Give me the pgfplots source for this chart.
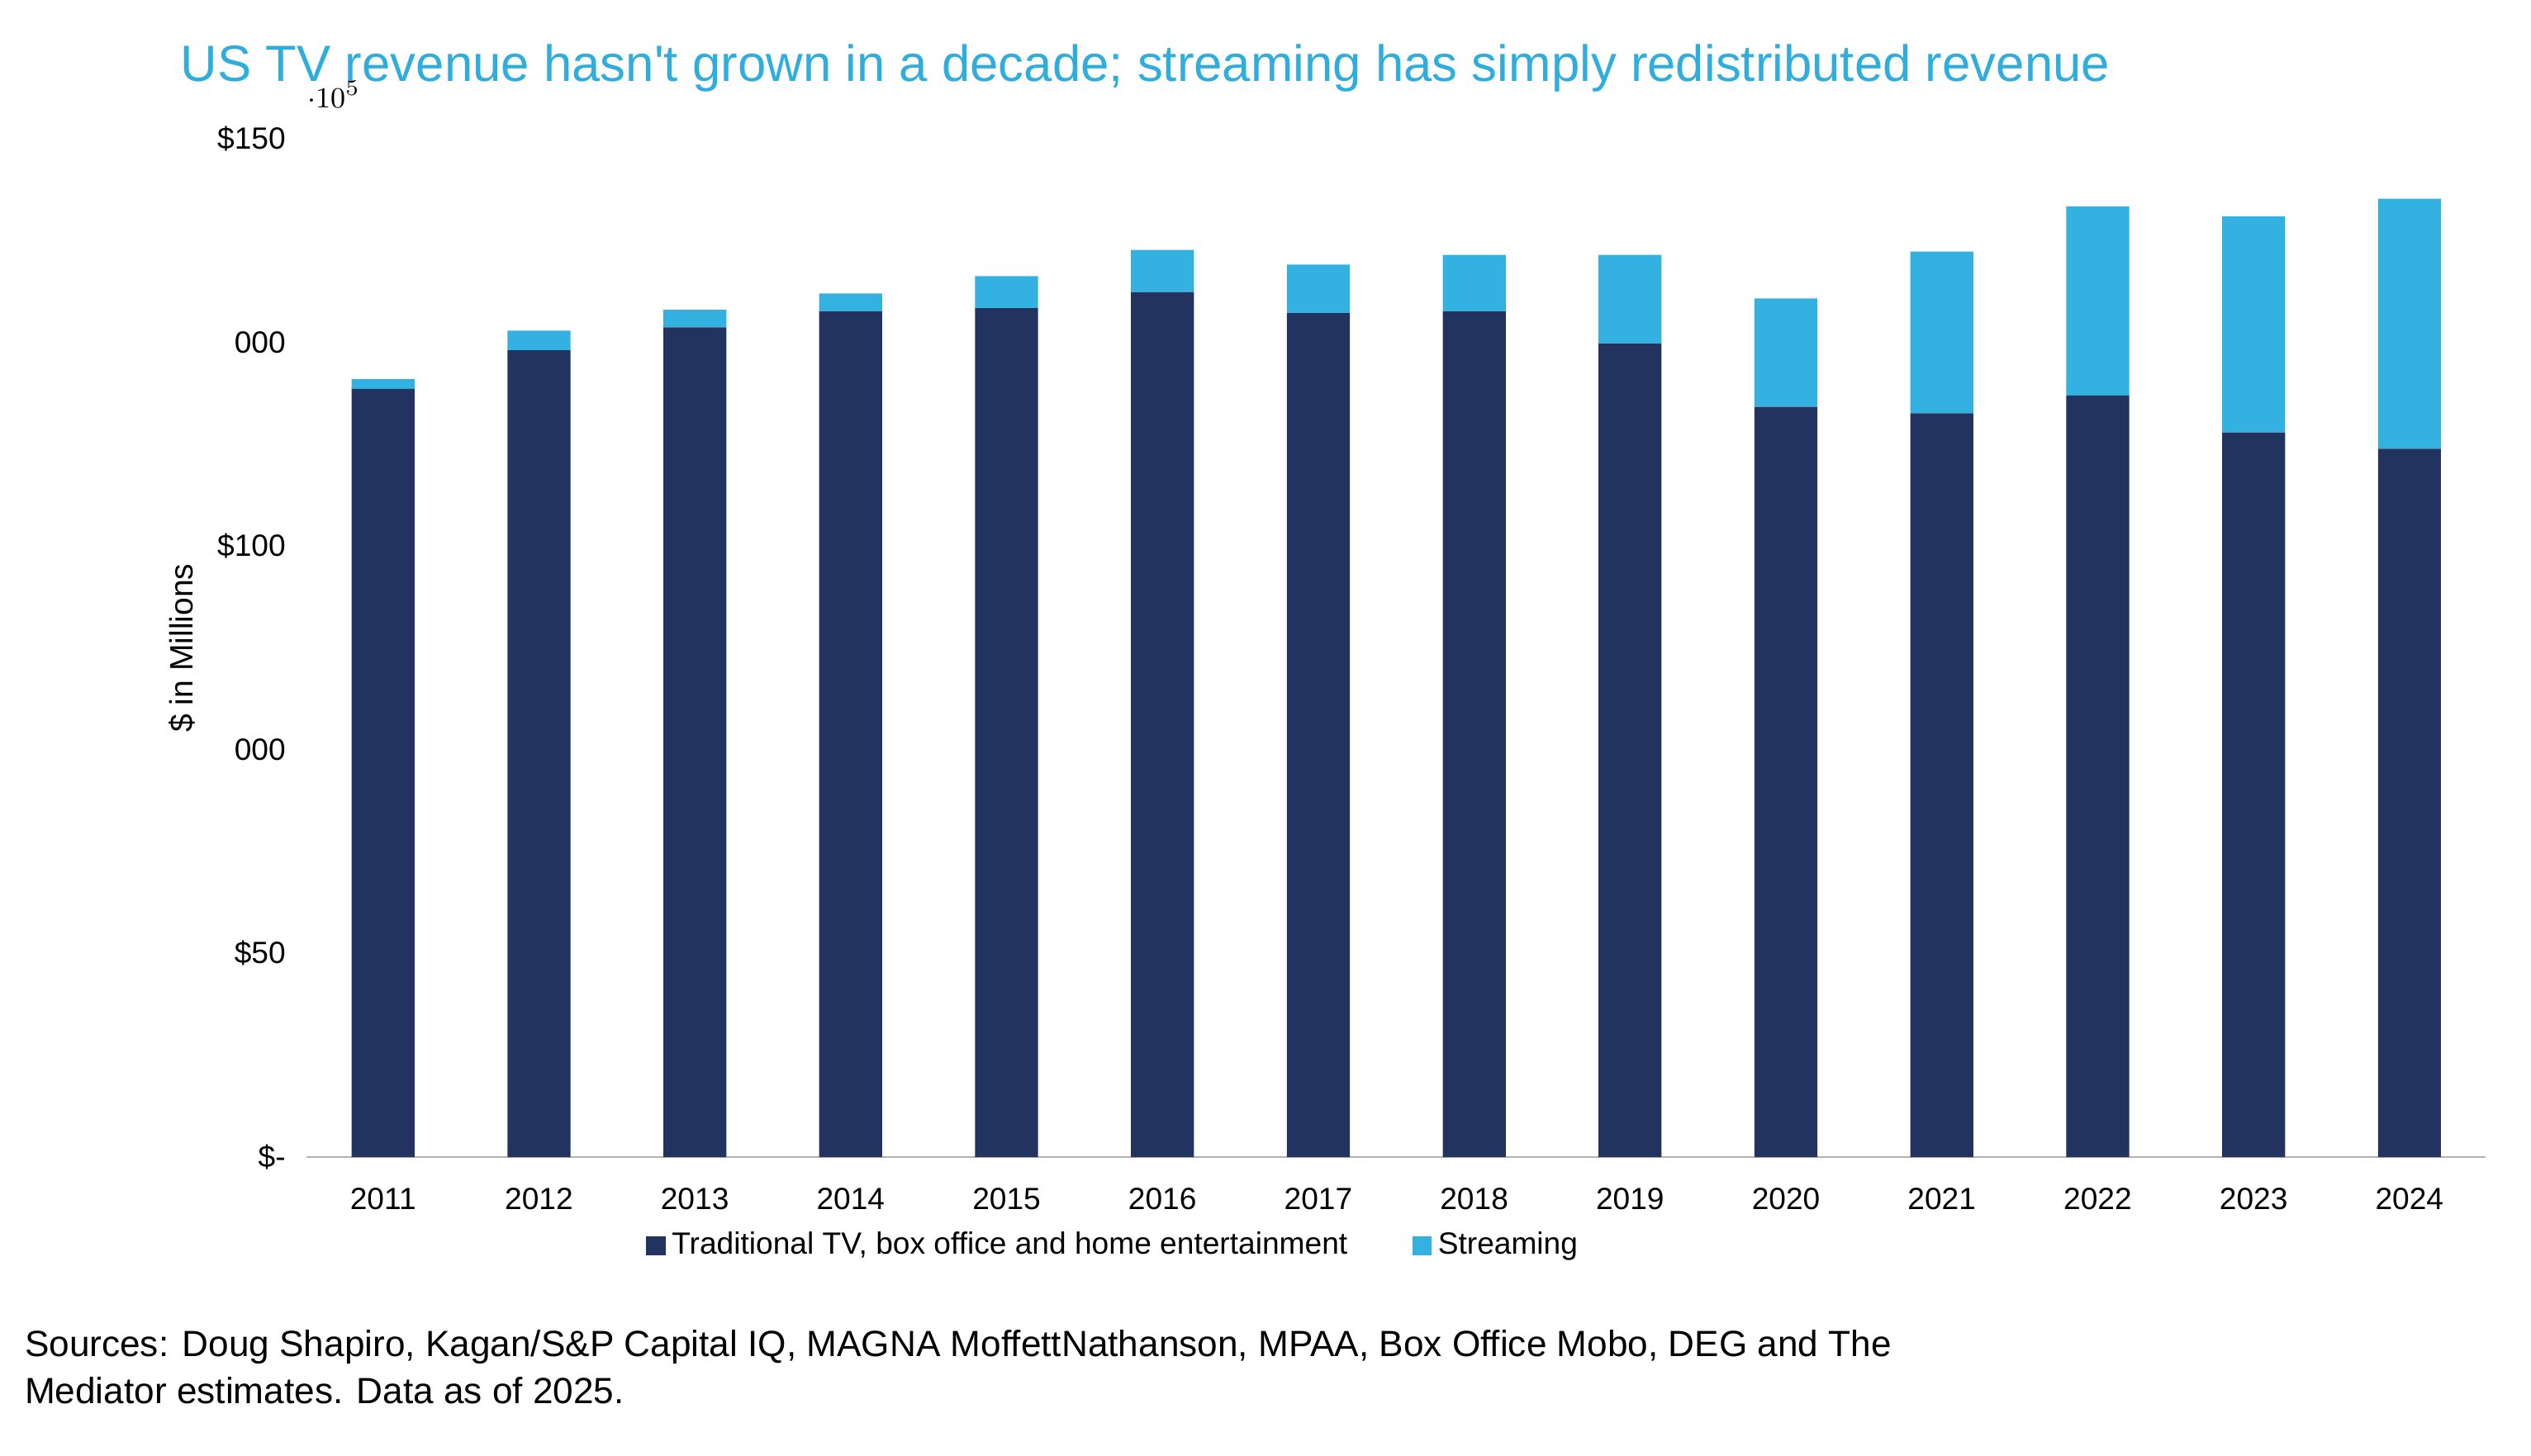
\documentclass[border=0pt]{standalone}
\usepackage{pgfplots}
\pgfplotsset{compat=1.18}
\usepackage{fontspec}
\setmainfont{Liberation Sans}
\definecolor{dark}{HTML}{22335F}
\definecolor{light}{HTML}{33B1E0}
\definecolor{ttl}{HTML}{2FAEDE}
\begin{document}
\begin{tikzpicture}
\useasboundingbox (0,0) rectangle (784pt,451pt);
\begin{axis}[
  at={(95pt,92.5pt)}, anchor=south west,
  scale only axis, width=675pt, height=315.5pt,
  ybar stacked, bar width=19.5pt,
  xmin=-0.49, xmax=13.49, ymin=0, ymax=250000,
  xtick=data,
  xticklabels={2011,2012,2013,2014,2015,2016,2017,2018,2019,2020,2021,2022,2023,2024},
  ytick={0,50000,100000,150000,200000,250000},
  yticklabels={\$-,\$50,000,\$100,000,\$150,000,\$200,000,\$250,000},
  axis x line*=bottom, axis y line*=left,
  y axis line style={draw=none},
  x axis line style={draw=gray!60, -},
  major tick length=0pt,
  tick label style={font=\fontsize{9.5}{11}\selectfont},
  yticklabel style={xshift=-3pt},
  xticklabel style={yshift=-6pt},
  ylabel={\$ in Millions},
  ylabel style={font=\fontsize{10}{12}\selectfont},
  legend style={at={(0.371,-0.087)}, anchor=center, draw=none, fill=none,
    font=\fontsize{9.5}{11}\selectfont, legend columns=2,
    /tikz/every even column/.append style={column sep=18pt}},
  legend image code/.code={\fill[#1] (0pt,-3pt) rectangle (6pt,3pt);},
]
\addplot[fill=dark, draw=none] coordinates {(0,188600) (1,198100) (2,203700) (3,207600) (4,208400) (5,212400) (6,207200) (7,207600) (8,199700) (9,184200) (10,182600) (11,187000) (12,177900) (13,173900)};
\addplot[fill=light, draw=none] coordinates {(0,2400) (1,4800) (2,4300) (3,4400) (4,7900) (5,10300) (6,11900) (7,13900) (8,21800) (9,26600) (10,39700) (11,46400) (12,53100) (13,61400)};
\legend{{Traditional TV, box office and home entertainment}, Streaming}
\end{axis}
\node[anchor=west, text=ttl, font=\fontsize{15.8}{18}\selectfont] at (52.5pt,430pt) {US TV revenue hasn\textquotesingle t grown in a decade; streaming has simply redistributed revenue};
\node[anchor=north west, align=left, font=\fontsize{11.3}{14.5}\selectfont, inner sep=0pt] at (7.5pt,39pt) {Sources: Doug Shapiro, Kagan/S\&P Capital IQ, MAGNA MoffettNathanson, MPAA, Box Office Mobo, DEG and The\\Mediator estimates. Data as of 2025.};
\end{tikzpicture}
\end{document}
